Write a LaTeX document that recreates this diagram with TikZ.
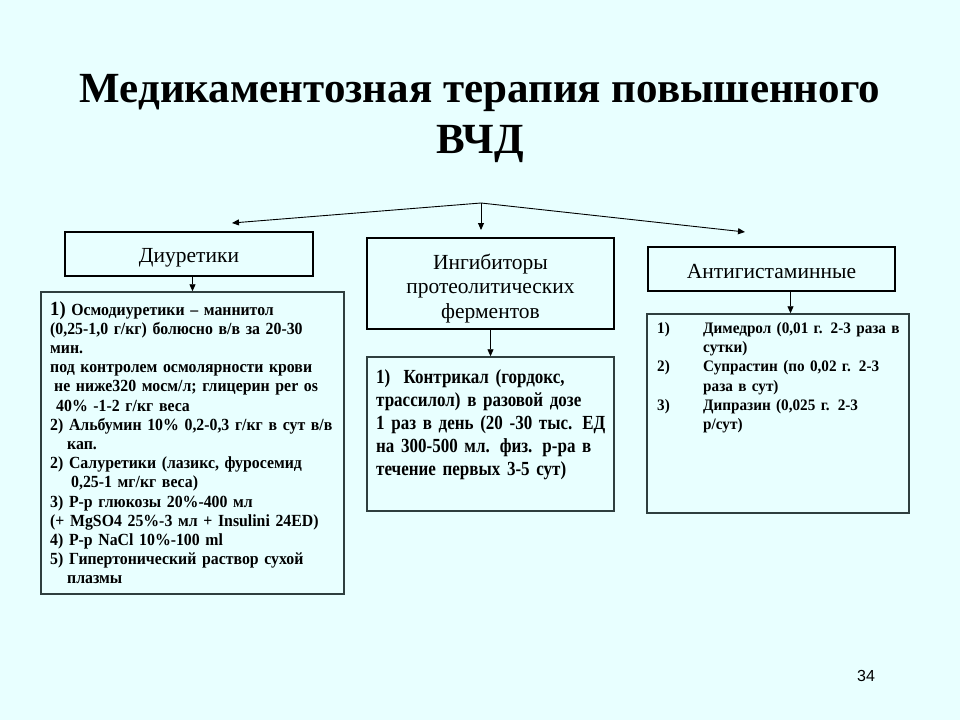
\documentclass[tikz,border=0pt]{standalone}
\usepackage{fontspec}
\setmainfont{Liberation Serif}
\newfontfamily\condf[FakeStretch=0.93]{Liberation Serif}
\newfontfamily\condm[FakeStretch=0.85]{Liberation Serif}
\newfontfamily\condr[FakeStretch=0.95]{Liberation Serif}
\newfontfamily\numf{Liberation Sans}
\usetikzlibrary{arrows.meta}
\definecolor{bgc}{HTML}{E8FFFF}
\definecolor{bordc}{HTML}{2F3F3F}
\begin{document}
\begin{tikzpicture}[x=1pt,y=-1pt,
  hbox/.style={draw=black,line width=1.2pt,fill=bgc,inner sep=0pt},
  lbox/.style={draw=bordc,line width=1.5pt,fill=bgc,inner sep=0pt},
  htext/.style={font=\fontsize{21.5}{24.5}\selectfont,align=center,inner sep=0pt},
  ttext/.style={font=\bfseries\fontsize{43}{48}\selectfont},
  arr/.style={-{Triangle[length=7pt,width=6pt]},line width=0.9pt},
  tnode/.style={anchor=north west,inner sep=0pt,align=left}]
\useasboundingbox (0,0) rectangle (960,720);
\fill[bgc] (0,0) rectangle (960,720);
% title
\node[ttext] (title1) at (480,93) {Медикаментозная терапия повышенного};
\node[ttext] (title2) at (480,144) {ВЧД};
% header boxes
\node[hbox,minimum width=248pt,minimum height=44pt] (diu) at (189,254) {};
\node[hbox,minimum width=247pt,minimum height=91pt] (inh) at (490.5,283.5) {};
\node[hbox,minimum width=247pt,minimum height=44pt] (ant) at (771.5,269) {};
\node[htext] (diulab) at ([yshift=-4pt]diu.center) {Диуретики};
\node[htext] (inhlab) at ([yshift=-5pt]inh.center) {Ингибиторы\\протеолитических\\ферментов};
\node[htext] (antlab) at ([yshift=-3pt]ant.center) {Антигистаминные};
% lower boxes
\node[lbox,minimum width=303pt,minimum height=302pt] (L) at (192.5,443) {};
\node[lbox,minimum width=247pt,minimum height=154pt] (M) at (490.5,434) {};
\node[lbox,minimum width=262pt,minimum height=199pt] (R) at (778,413.5) {};
% top connectors
\coordinate (apex) at (481,203);
\coordinate (eL) at (232,223);
\coordinate (eM) at (481,230);
\coordinate (eR) at (745,232);
\draw[arr] (apex) -- (eL);
\draw[arr] (apex) -- (eM);
\draw[arr] (apex) -- (eR);
% box connectors
\draw[arr] (L.north |- diu.south) -- (L.north);
\draw[arr] (inh.south) -- (M.north);
\draw[arr] ([xshift=19pt]ant.south) -- ([xshift=19pt]ant.south |- R.north);
% texts
\node[tnode,text width=290pt,font=\condf\bfseries\fontsize{17}{19.2}\selectfont] (Ltext) at (50,301) {%
{\fontsize{20}{19.2}\selectfont 1)} Осмодиуретики – маннитол\\
\makebox[286pt][s]{(0,25-1,0 г/кг) болюсно в/в за 20-30}\\
мин.\\
под контролем осмолярности крови\\
\hspace*{4pt}не ниже320 мосм/л; глицерин per os\\
\hspace*{6pt}40\% -1-2 г/кг веса\\
2) Альбумин 10\% 0,2-0,3 г/кг в сут в/в\\
\hspace*{17pt}кап.\\
2) Салуретики (лазикс, фуросемид\\
\hspace*{21pt}0,25-1 мг/кг веса)\\
3) Р-р глюкозы 20\%-400 мл\\
(+ MgSO4 25\%-3 мл + Insulini 24ED)\\
4) Р-р NaCl 10\%-100 ml\\
5) Гипертонический раствор сухой\\
\hspace*{17pt}плазмы};
\node[tnode,text width=232pt,font=\condm\bfseries\fontsize{20}{23}\selectfont] (Mtext) at (376,369) {%
1)\ \ Контрикал (гордокс,\\
\makebox[230pt][s]{трассилол) в разовой дозе}\\
\makebox[230pt][s]{1 раз в день (20 -30 тыс. ЕД}\\
\makebox[230pt][s]{на 300-500 мл. физ. р-ра в}\\
течение первых 3-5 сут)};
\node[tnode,text width=250pt,font=\condr\bfseries\fontsize{16}{19.3}\selectfont] (Rtext) at (657,322) {%
\makebox[46pt][l]{1)}Димедрол (0,01 г. 2-3 раза в\\
\hspace*{46pt}сутки)\\
\makebox[46pt][l]{2)}\makebox[197pt][s]{Супрастин (по 0,02 г. 2-3}\\
\hspace*{46pt}раза в сут)\\
\makebox[46pt][l]{3)}\makebox[197pt][s]{Дипразин (0,025 г. 2-3}\\
\hspace*{46pt}р/сут)};
\node[font=\numf\fontsize{16}{19}\selectfont] (pg) at (866,676) {34};
\end{tikzpicture}
\end{document}
